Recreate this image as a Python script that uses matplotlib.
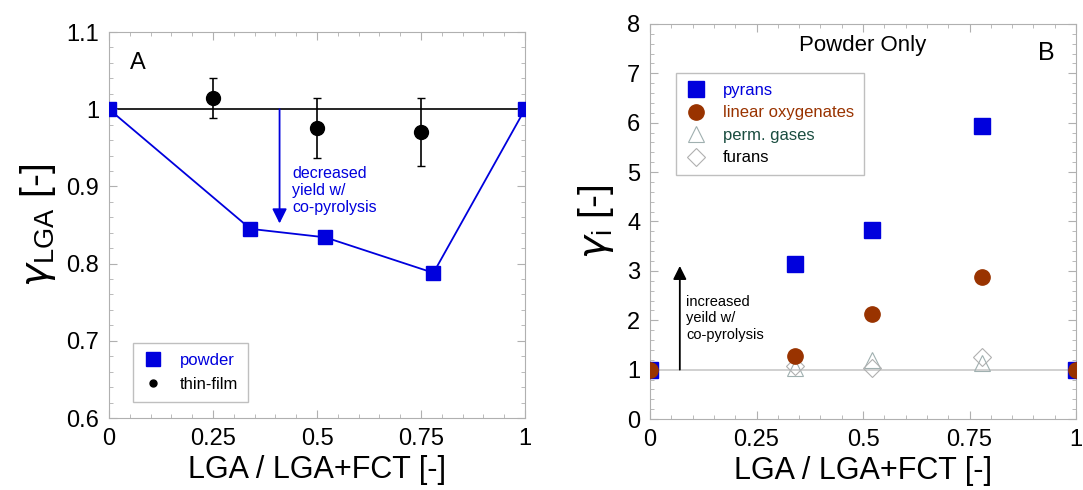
import numpy as np
import matplotlib.pyplot as plt
from matplotlib.ticker import MultipleLocator

plt.rcParams['font.family'] = ['Liberation Sans', 'DejaVu Sans']

# panneau A
x_powder = [0.0, 0.34, 0.52, 0.78, 1.0]
y_powder = [1.0, 0.845, 0.834, 0.788, 1.0]
x_film = [0.25, 0.5, 0.75]
y_film = [1.015, 0.976, 0.970]
err_lo = [0.026, 0.039, 0.043]
err_hi = [0.026, 0.039, 0.044]

# panneau B
x_b = [0.0, 0.34, 0.52, 0.78, 1.0]
pyrans = [1.0, 3.13, 3.82, 5.93, 1.0]
linear_oxy = [1.0, 1.28, 2.13, 2.87, 1.0]
x_gas = [0.34, 0.52, 0.78]
perm_gases = [1.03, 1.19, 1.14]
furans = [1.08, 1.03, 1.26]

blue = '#0000dd'
brown = '#993300'
frame = '#b0b0b0'

fig = plt.figure(figsize=(10.83, 4.9), dpi=100)
axA = fig.add_axes([109/1083, 1-418/490, 416/1083, 386/490])
axB = fig.add_axes([650/1083, 1-419/490, 426/1083, 395/490])

def style(ax):
    for s in ax.spines.values():
        s.set_color(frame)
    ax.tick_params(which='both', direction='in', top=True, right=True, color=frame)
    ax.tick_params(which='major', length=6, labelsize=17, pad=7)
    ax.tick_params(which='minor', length=3)
    ax.xaxis.set_minor_locator(MultipleLocator(0.05))
    ax.set_xticks([0, 0.25, 0.5, 0.75, 1])
    ax.set_xticklabels(['0', '0.25', '0.5', '0.75', '1'])
    ax.set_xlabel('LGA / LGA+FCT [-]', fontsize=22, labelpad=4)

# ----- A -----
axA.axhline(1.0, color='black', lw=1.2, zorder=1)
axA.plot(x_powder, y_powder, '-', color=blue, lw=1.3, zorder=2)
axA.plot(x_powder, y_powder, 's', color=blue, ms=10, zorder=3, label='powder')
axA.errorbar(x_film, y_film, yerr=[err_lo, err_hi], fmt='o', color='black',
             ms=10, ecolor='black', elinewidth=1.2, capsize=3, zorder=4)
axA.plot([], [], 'o', color='black', ms=5, label='thin-film')
axA.annotate('', xy=(0.41, 0.852), xytext=(0.41, 1.0),
             arrowprops=dict(arrowstyle='-|>', color=blue, lw=1.3,
                             mutation_scale=22, shrinkA=0, shrinkB=0))
axA.text(0.44, 0.927, 'decreased\nyield w/\nco-pyrolysis', color=blue,
         fontsize=11.5, va='top', linespacing=1.2)
axA.text(0.05, 1.06, 'A', fontsize=17, va='center')
axA.set_xlim(0, 1)
axA.set_ylim(0.6, 1.1)
style(axA)
axA.yaxis.set_minor_locator(MultipleLocator(0.02))
axA.set_yticks([0.6, 0.7, 0.8, 0.9, 1.0, 1.1])
axA.set_yticklabels(['0.6', '0.7', '0.8', '0.9', '1', '1.1'])
axA.set_ylabel(r'$\gamma_{\mathregular{LGA}}$ [-]', fontsize=28, labelpad=6)
legA = axA.legend(loc='lower left', bbox_to_anchor=(0.058, 0.041), fontsize=12,
                  frameon=True, fancybox=False, edgecolor=frame, borderaxespad=0,
                  handlelength=1.2, handletextpad=1.0, borderpad=0.6,
                  labelspacing=0.55)
legA.get_frame().set_linewidth(1.0)
legA.get_texts()[0].set_color(blue)

# ----- B -----
axB.axhline(1.0, color='#c8c8c8', lw=1.2, zorder=1)
axB.plot(x_gas, perm_gases, '^', mfc='none', mec='#a0b0b0', ms=11, mew=0.8,
         zorder=2, label='perm. gases')
axB.plot(x_gas, furans, 'D', mfc='none', mec='#b0b0b0', ms=9, mew=0.8,
         zorder=2, label='furans')
axB.plot(x_b, pyrans, 's', color=blue, ms=11, zorder=3, label='pyrans')
axB.plot(x_b, linear_oxy, 'o', color=brown, ms=11, zorder=4, label='linear oxygenates')
axB.annotate('', xy=(0.07, 3.1), xytext=(0.07, 1.0),
             arrowprops=dict(arrowstyle='-|>', color='black', lw=1.3,
                             mutation_scale=20, shrinkA=0, shrinkB=0))
axB.text(0.085, 2.52, 'increased\nyeild w/\nco-pyrolysis', fontsize=10.5,
         va='top', linespacing=1.25)
axB.text(0.5, 7.57, 'Powder Only', fontsize=16, ha='center', va='center')
axB.text(0.93, 7.41, 'B', fontsize=18, ha='center', va='center')
axB.set_xlim(0, 1)
axB.set_ylim(0, 8)
style(axB)
axB.yaxis.set_major_locator(MultipleLocator(1))
axB.yaxis.set_minor_locator(MultipleLocator(0.2))
axB.set_ylabel(r'$\gamma_{\mathregular{i}}$ [-]', fontsize=28, labelpad=8)
h, l = axB.get_legend_handles_labels()
order = [2, 3, 0, 1]
legB = axB.legend([h[i] for i in order], [l[i] for i in order],
                  loc='upper left', bbox_to_anchor=(0.061, 0.876), fontsize=12,
                  frameon=True, fancybox=False, edgecolor=frame, borderaxespad=0,
                  handlelength=1.2, handletextpad=1.0, borderpad=0.6,
                  labelspacing=0.45)
legB.get_frame().set_linewidth(1.0)
for t, c in zip(legB.get_texts(), [blue, brown, '#1a4d40', 'black']):
    t.set_color(c)

fig.savefig('out.png', dpi=100)
